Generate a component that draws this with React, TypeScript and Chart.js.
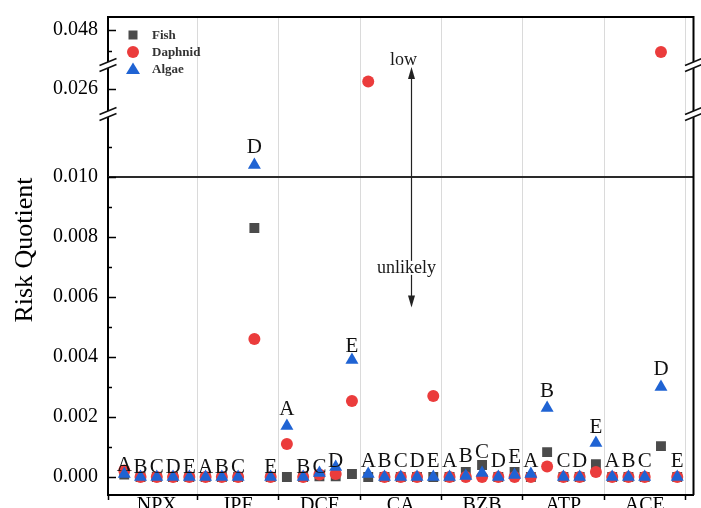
import React, { useEffect, useRef } from 'react';
import { Chart, registerables } from 'chart.js';

Chart.register(...registerables);

// ---------- data ----------
const categories = ['NPX', 'IPF', 'DCF', 'CA', 'BZB', 'ATP', 'ACE'];
const subLabels = ['A', 'B', 'C', 'D', 'E'];

const fish = [
  0.00008, 0, 0, 0, 0,
  0, 0, 0, 0.0083, 0,
  0, 0, 0.00002, 0.00002, 0.0001,
  0, 0, 0, 0, 0,
  0, 0.00017, 0.0004, 0, 0.00017,
  0, 0.00083, 0, 0, 0.00043,
  0, 0, 0, 0.00103, 0,
];
const daphnid = [
  0.00022, 0, 0, 0, 0,
  0, 0, 0, 0.0046, 0,
  0.0011, 0, 0.00008, 0.0001, 0.00253,
  0.0263, 0, 0, 0, 0.0027,
  0, 0, 0, 0, 0,
  0, 0.00035, 0, 0, 0.00017,
  0, 0, 0, 0.04695, 0,
];
const algae = [
  0.0001, 0, 0, 0, 0,
  0, 0, 0, 0.0104, 0,
  0.0017, 0, 0.00013, 0.00033, 0.0039,
  0.0001, 0, 0, 0, 0,
  0, 0.00003, 0.00013, 0, 0.00007,
  0.0001, 0.0023, 0, 0, 0.00113,
  0, 0, 0, 0.003, 0,
];
// height (data units) of each A–E label's baseline
const labelHeights = [
  0.0002, 0.00012, 0.00012, 0.00012, 0.00012,
  0.00012, 0.00012, 0.00012, 0.0108, 0.00012,
  0.00207, 0.00013, 0.00013, 0.00033, 0.00417,
  0.00035, 0.00035, 0.00035, 0.00035, 0.00035,
  0.00035, 0.0005, 0.00063, 0.00035, 0.00047,
  0.00033, 0.00267, 0.00035, 0.00035, 0.00147,
  0.00035, 0.00035, 0.00035, 0.0034, 0.00035,
];

const lowerTicks = [0, 0.002, 0.004, 0.006, 0.008, 0.01];
const lowerMinorTicks = [0.001, 0.003, 0.005, 0.007, 0.009, 0.011];
const middleTicks = [0.026];
const topTicks = [0.048];
const topMinorTicks = [0.047];
const referenceLine = 0.01;

// axis segments (broken axis)
const segments = [
  { id: 'y', min: -0.0006, max: 0.0121, weight: 381 },
  { id: 'y2', min: 0.025, max: 0.02696, weight: 49 },
  { id: 'y3', min: 0.04633, max: 0.04862, weight: 48 },
];

const arrowX = 17.6;
const arrowTopValue = 0.02688; // on middle segment
const arrowBottomValue = 0.00565; // on lower segment
const unlikelyValue = 0.00697;

const SERIF = "'Liberation Serif', 'Times New Roman', serif";

const series = [
  { name: 'Fish', values: fish, style: 'rect', radius: 7, color: '#4b4b4b', order: 2 },
  { name: 'Daphnid', values: daphnid, style: 'circle', radius: 6, color: '#eb3c3c', order: 1 },
  { name: 'Algae', values: algae, style: 'triangle', radius: 7.5, color: '#1f63d3', order: 0 },
];

const nCat = categories.length;
const nSub = subLabels.length;
const boundaryTicks = categories.map((_, i) => i * nSub + nSub - 0.5);
const centerTicks = categories.map((_, i) => i * nSub + (nSub - 1) / 2);

function segOf(v: number) {
  const s = segments.find((sg) => v >= sg.min && v <= sg.max);
  return s ? s.id : 'y';
}

function drawBreak(ctx: CanvasRenderingContext2D, x: number, yb: number) {
  const w = 8.5, rise = 3.5, gap = 3;
  ctx.save();
  ctx.fillStyle = '#ffffff';
  ctx.beginPath();
  ctx.moveTo(x - w, yb + gap + rise);
  ctx.lineTo(x + w, yb + gap - rise);
  ctx.lineTo(x + w, yb - gap - rise);
  ctx.lineTo(x - w, yb - gap + rise);
  ctx.closePath();
  ctx.fill();
  ctx.strokeStyle = '#111';
  ctx.lineWidth = 1.6;
  ctx.beginPath();
  ctx.moveTo(x - w, yb + gap + rise);
  ctx.lineTo(x + w, yb + gap - rise);
  ctx.moveTo(x - w, yb - gap + rise);
  ctx.lineTo(x + w, yb - gap - rise);
  ctx.stroke();
  ctx.restore();
}

function drawSymbol(ctx: CanvasRenderingContext2D, style: string, x: number, y: number, color: string) {
  ctx.fillStyle = color;
  ctx.beginPath();
  if (style === 'rect') {
    ctx.rect(x - 4.5, y - 4.5, 9, 9);
  } else if (style === 'circle') {
    ctx.arc(x, y, 6, 0, Math.PI * 2);
  } else {
    ctx.moveTo(x, y - 6.5);
    ctx.lineTo(x + 7, y + 5);
    ctx.lineTo(x - 7, y + 5);
    ctx.closePath();
  }
  ctx.fill();
}

const decorPlugin = {
  id: 'decor',
  beforeDatasetsDraw(chart: any) {
    const { ctx, chartArea: a, scales } = chart;
    ctx.save();
    ctx.strokeStyle = '#2a2a2a';
    ctx.lineWidth = 2;
    const py = scales.y.getPixelForValue(referenceLine);
    ctx.beginPath();
    ctx.moveTo(a.left, py);
    ctx.lineTo(a.right, py);
    ctx.stroke();
    ctx.restore();
  },
  afterDraw(chart: any) {
    const { ctx, chartArea: a, scales } = chart;
    const xs = scales.x;
    ctx.save();

    // top & right frame
    ctx.strokeStyle = '#000';
    ctx.lineWidth = 2;
    ctx.beginPath();
    ctx.moveTo(a.left, a.top);
    ctx.lineTo(a.right, a.top);
    ctx.lineTo(a.right, a.bottom);
    ctx.stroke();

    // inward ticks on the left axis
    const tickSets: [any, number[], number][] = [
      [scales.y, lowerTicks, 8],
      [scales.y, lowerMinorTicks, 4],
      [scales.y2, middleTicks, 8],
      [scales.y3, topTicks, 8],
      [scales.y3, topMinorTicks, 4],
    ];
    ctx.lineWidth = 1.5;
    ctx.strokeStyle = '#000';
    tickSets.forEach(([sc, vals, len]) => {
      vals.forEach((v) => {
        const p = Math.round(sc.getPixelForValue(v)) + 0.5;
        ctx.beginPath();
        ctx.moveTo(a.left, p);
        ctx.lineTo(a.left + len, p);
        ctx.stroke();
      });
    });

    // axis breaks
    [scales.y2.top, scales.y.top].forEach((yb: number) => {
      drawBreak(ctx, a.left, yb);
      drawBreak(ctx, a.right, yb);
    });

    // A–E labels
    ctx.fillStyle = '#111';
    ctx.font = `21px ${SERIF}`;
    ctx.textAlign = 'center';
    ctx.textBaseline = 'alphabetic';
    labelHeights.forEach((h, i) => {
      const lbl = subLabels[i % nSub];
      ctx.fillText(lbl, xs.getPixelForValue(i), scales.y.getPixelForValue(h));
    });

    // arrow
    const ax = Math.round(xs.getPixelForValue(arrowX)) + 0.5;
    const yTop = scales.y2.getPixelForValue(arrowTopValue);
    const yBot = scales.y.getPixelForValue(arrowBottomValue);
    ctx.strokeStyle = '#222';
    ctx.fillStyle = '#222';
    ctx.lineWidth = 1.2;
    ctx.beginPath();
    ctx.moveTo(ax, yTop + 6);
    ctx.lineTo(ax, yBot - 6);
    ctx.stroke();
    ctx.beginPath();
    ctx.moveTo(ax, yTop);
    ctx.lineTo(ax + 3.5, yTop + 12);
    ctx.lineTo(ax - 3.5, yTop + 12);
    ctx.closePath();
    ctx.fill();
    ctx.beginPath();
    ctx.moveTo(ax, yBot);
    ctx.lineTo(ax + 3.5, yBot - 12);
    ctx.lineTo(ax - 3.5, yBot - 12);
    ctx.closePath();
    ctx.fill();

    ctx.font = `18px ${SERIF}`;
    ctx.textAlign = 'center';
    ctx.textBaseline = 'alphabetic';
    ctx.fillStyle = '#1a1a1a';
    ctx.fillText('low', ax - 8, yTop - 2);

    const uy = scales.y.getPixelForValue(unlikelyValue);
    const uw = ctx.measureText('unlikely').width;
    ctx.fillStyle = '#fff';
    ctx.fillRect(ax - 5 - uw / 2, uy - 7, uw, 14);
    ctx.fillStyle = '#1a1a1a';
    ctx.textBaseline = 'middle';
    ctx.fillText('unlikely', ax - 5, uy);

    // legend
    ctx.textAlign = 'left';
    ctx.textBaseline = 'middle';
    ctx.font = `bold 13px ${SERIF}`;
    series.forEach((s, i) => {
      const ly = a.top + 18 + i * 17;
      drawSymbol(ctx, s.style, a.left + 25, ly, s.color);
      ctx.fillStyle = '#333';
      ctx.fillText(s.name, a.left + 44, ly + 1);
    });

    // y title
    ctx.save();
    ctx.translate(32, (a.top + a.bottom) / 2 - 6);
    ctx.rotate(-Math.PI / 2);
    ctx.font = `26px ${SERIF}`;
    ctx.fillStyle = '#000';
    ctx.textAlign = 'center';
    ctx.textBaseline = 'alphabetic';
    ctx.fillText('Risk Quotient', 0, 0);
    ctx.restore();

    ctx.restore();
  },
};

export default function App() {
  const ref = useRef<HTMLCanvasElement | null>(null);

  useEffect(() => {
    document.body.style.margin = '0';
    const canvas = ref.current;
    if (!canvas) return;

    const datasets: any[] = [];
    series.forEach((s) => {
      segments.forEach((seg) => {
        datasets.push({
          label: s.name,
          yAxisID: seg.id,
          order: s.order,
          data: s.values
            .map((v, i) => ({ x: i, y: v }))
            .filter((p) => segOf(p.y) === seg.id),
          pointStyle: s.style,
          pointRadius: s.radius,
          pointHoverRadius: s.radius,
          pointBackgroundColor: s.color,
          pointBorderColor: s.color,
          pointBorderWidth: 0,
          showLine: false,
        });
      });
    });

    const tickFont = { family: SERIF, size: 20 };
    const yScales: any = {};
    segments.forEach((seg) => {
      const major = seg.id === 'y' ? lowerTicks : seg.id === 'y2' ? middleTicks : topTicks;
      yScales[seg.id] = {
        type: 'linear',
        position: 'left',
        stack: 'rq',
        stackWeight: seg.weight,
        min: seg.min,
        max: seg.max,
        bounds: 'data',
        afterBuildTicks: (sc: any) => {
          sc.ticks = major.map((v) => ({ value: v }));
        },
        afterFit: (sc: any) => {
          sc.width = 108;
          sc.paddingTop = 0;
          sc.paddingBottom = 0;
        },
        grid: { display: false, drawTicks: false, drawOnChartArea: false },
        border: { display: true, color: '#000', width: 2 },
        ticks: {
          padding: 10,
          color: '#000',
          font: tickFont,
          callback: (v: any) => Number(v).toFixed(3),
        },
      };
    });

    const isBoundary = (v: any) => typeof v === 'number' && boundaryTicks.some((b) => Math.abs(b - v) < 1e-6);

    const chart = new Chart(canvas, {
      type: 'scatter',
      data: { datasets },
      plugins: [decorPlugin],
      options: {
        animation: false,
        responsive: false,
        maintainAspectRatio: false,
        layout: { padding: { top: 17, right: 3, left: 0, bottom: 0 } },
        plugins: {
          legend: { display: false },
          tooltip: { enabled: false },
        },
        scales: {
          x: {
            type: 'linear',
            min: -1,
            max: nCat * nSub,
            bounds: 'data',
            afterBuildTicks: (sc: any) => {
              sc.ticks = [-1, ...boundaryTicks, ...centerTicks]
                .sort((p, q) => p - q)
                .map((v) => ({ value: v }));
            },
            afterFit: (sc: any) => {
              sc.height = 13;
              sc.paddingLeft = 0;
              sc.paddingRight = 0;
            },
            grid: {
              display: true,
              drawOnChartArea: true,
              drawTicks: true,
              tickLength: 5,
              lineWidth: 1,
              tickWidth: 1.5,
              color: (c: any) => (c.tick && isBoundary(c.tick.value) ? '#dadada' : 'rgba(0,0,0,0)'),
              tickColor: (c: any) =>
                c.tick && (isBoundary(c.tick.value) || c.tick.value === -1) ? '#000' : 'rgba(0,0,0,0)',
            },
            border: { display: true, color: '#000', width: 2 },
            ticks: {
              autoSkip: false,
              maxRotation: 0,
              minRotation: 0,
              padding: -6,
              color: '#000',
              font: tickFont,
              callback: (v: any) => {
                const idx = centerTicks.findIndex((c) => Math.abs(c - v) < 1e-6);
                return idx >= 0 ? categories[idx] : '';
              },
            },
          },
          ...yScales,
        },
      } as any,
    });

    return () => chart.destroy();
  }, []);

  return (
    <div style={{ width: 701, height: 508 }}>
      <canvas ref={ref} width={701} height={508} style={{ display: 'block' }} />
    </div>
  );
}
